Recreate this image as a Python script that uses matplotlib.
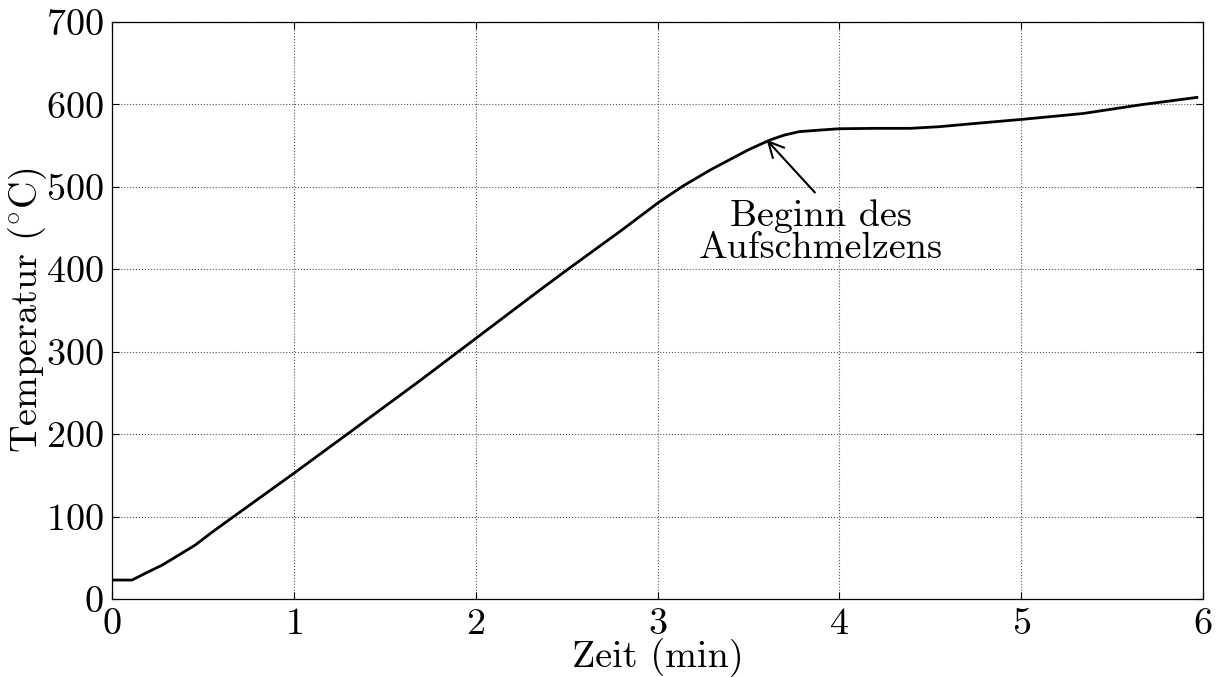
import numpy as np
import matplotlib
matplotlib.use("Agg")
import matplotlib.pyplot as plt

plt.rcParams['font.family'] = 'cmr10'
plt.rcParams['mathtext.fontset'] = 'cm'
plt.rcParams['axes.formatter.use_mathtext'] = True
plt.rcParams['font.size'] = 27.5

# Temperaturverlauf
zeit = [0.0, 0.11, 0.2, 0.275, 0.35, 0.458, 0.55, 0.669, 1.0, 1.3, 1.7,
        2.0, 2.354, 2.51, 2.794, 3.005, 3.14, 3.29, 3.38, 3.5, 3.62, 3.7,
        3.78, 3.9, 4.0, 4.2, 4.39, 4.55, 4.70, 5.01, 5.34, 5.655, 5.966]
temperatur = [23, 23, 33, 41, 51, 65.5, 81, 100, 152.5, 201, 266,
              316, 375, 400.5, 446, 481, 501, 520.5, 531, 545, 557, 563,
              567, 569, 570.5, 571, 571, 573, 576, 582, 589, 599.5, 608.5]

xticks = [0, 1, 2, 3, 4, 5, 6]
yticks = [0, 100, 200, 300, 400, 500, 600, 700]

fig = plt.figure(figsize=(12.2, 6.77), dpi=100)
ax = fig.add_axes([0.0918, 0.1152, 0.8943, 0.8523])

ax.plot(zeit, temperatur, color='black', lw=2.0)

ax.set_xlim(0, 6)
ax.set_ylim(0, 700)
ax.set_xticks(xticks)
ax.set_yticks(yticks)
ax.grid(True, color='#555555', linestyle=':', lw=0.8)
ax.tick_params(direction='in', top=True, right=True, length=5, pad=6)
for s in ax.spines.values():
    s.set_linewidth(0.9)

ax.set_xlabel('Zeit (min)', labelpad=-2)
ax.set_ylabel(r'Temperatur ($^{\circ}$C)', labelpad=-2)

ax.annotate('Beginn des\nAufschmelzens', xy=(3.6, 557), xytext=(3.9, 445),
            ha='center', va='center', linespacing=0.95,
            arrowprops=dict(arrowstyle='->', color='black', lw=1.5,
                            relpos=(0.5, 1.0), shrinkA=4, shrinkB=0))

fig.savefig('out.png', dpi=100)
